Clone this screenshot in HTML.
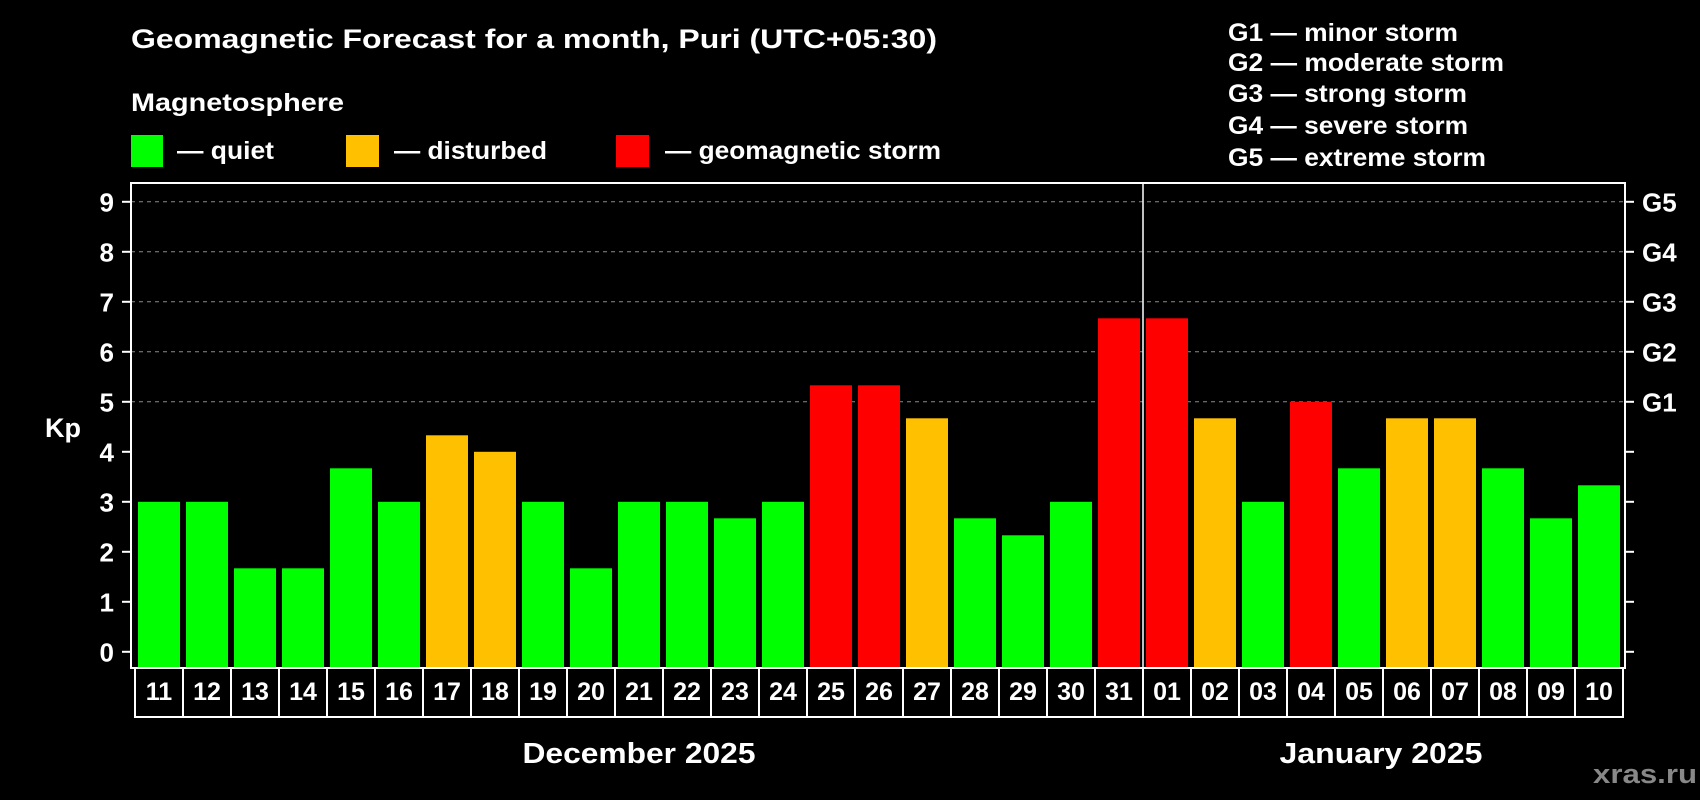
<!DOCTYPE html>
<html><head><meta charset="utf-8"><style>
html,body{margin:0;padding:0;background:#000;}
svg{display:block;font-family:"Liberation Sans",Arial,sans-serif;font-weight:bold;}
</style></head><body>
<svg id="chart" width="1700" height="800" viewBox="0 0 1700 800">
<rect x="0" y="0" width="1700" height="800" fill="#000"/>
<text x="131" y="48" fill="#fff" font-size="27" textLength="806" lengthAdjust="spacingAndGlyphs">Geomagnetic Forecast for a month, Puri (UTC+05:30)</text>
<text x="131" y="111" fill="#fff" font-size="25" textLength="213" lengthAdjust="spacingAndGlyphs">Magnetosphere</text>
<g>
<rect x="131" y="135" width="32" height="32" fill="#00ff00"/>
<text x="177" y="159" fill="#fff" font-size="25" textLength="97" lengthAdjust="spacingAndGlyphs">— quiet</text>
</g>
<g>
<rect x="346" y="135" width="33" height="32" fill="#ffc000"/>
<text x="394" y="159" fill="#fff" font-size="25" textLength="153" lengthAdjust="spacingAndGlyphs">— disturbed</text>
</g>
<g>
<rect x="616" y="135" width="33" height="32" fill="#ff0000"/>
<text x="665" y="159" fill="#fff" font-size="25" textLength="276" lengthAdjust="spacingAndGlyphs">— geomagnetic storm</text>
</g>
<g fill="#fff" font-size="25">
<text x="1228" y="41" textLength="230" lengthAdjust="spacingAndGlyphs">G1 — minor storm</text>
<text x="1228" y="71" textLength="276" lengthAdjust="spacingAndGlyphs">G2 — moderate storm</text>
<text x="1228" y="102" textLength="239" lengthAdjust="spacingAndGlyphs">G3 — strong storm</text>
<text x="1228" y="134" textLength="240" lengthAdjust="spacingAndGlyphs">G4 — severe storm</text>
<text x="1228" y="166" textLength="258" lengthAdjust="spacingAndGlyphs">G5 — extreme storm</text>
</g>
<g id="grid"></g>
<g id="bars"></g>
<g id="axes"></g>
<text x="63" y="437" fill="#fff" font-size="27" text-anchor="middle">Kp</text>
<text x="639" y="763" fill="#fff" font-size="29" text-anchor="middle" textLength="233" lengthAdjust="spacingAndGlyphs">December 2025</text>
<text x="1381" y="763" fill="#fff" font-size="29" text-anchor="middle" textLength="203" lengthAdjust="spacingAndGlyphs">January 2025</text>
<text x="1645" y="783" fill="#888" font-size="27" text-anchor="middle" textLength="104" lengthAdjust="spacingAndGlyphs">xras.ru</text>
</svg>
<script>
const days = ["11","12","13","14","15","16","17","18","19","20","21","22","23","24","25","26","27","28","29","30","31","01","02","03","04","05","06","07","08","09","10"];
const kpValues = [3,3,1.67,1.67,3.67,3,4.33,4,3,1.67,3,3,2.67,3,5.33,5.33,4.67,2.67,2.33,3,6.67,6.67,4.67,3,5,3.67,4.67,4.67,3.67,2.67,3.33];
const yTicks = ["0","1","2","3","4","5","6","7","8","9"];
const gLabels = ["G1","G2","G3","G4","G5"];
const gLevels = [5,6,7,8,9];
const monthSplitIndex = 21;

const NS = "http://www.w3.org/2000/svg";
const frameL = 131, frameR = 1625, frameT = 183, frameB = 668;
const slot0 = 135, slotW = 48, barW = 42;
function yScale(v){ return 651.8 - 50 * v; }
function xScale(i){ return slot0 + slotW * i; }
function colorFor(v){ return v >= 5 ? "#ff0000" : (v >= 4 ? "#ffc000" : "#00ff00"); }
function mk(tag, attrs, parent){
  const el = document.createElementNS(NS, tag);
  for (const k in attrs) el.setAttribute(k, attrs[k]);
  parent.appendChild(el);
  return el;
}
const grid = document.getElementById("grid");
const bars = document.getElementById("bars");
const axes = document.getElementById("axes");

gLevels.forEach((lv, j) => {
  const l = mk("line", {x1: frameL, x2: frameR, y1: yScale(lv), y2: yScale(lv), stroke: "#8a8a8a", "stroke-width": 1, "stroke-dasharray": "4,4"}, grid);
  
  
});

kpValues.forEach((v, i) => {
  const top = yScale(v);
  const r = mk("rect", {x: xScale(i) + 3, y: top, width: barW, height: frameB - top, fill: colorFor(v)}, bars);
  
  
});

const frame = mk("rect", {x: frameL, y: frameT, width: frameR - frameL, height: frameB - frameT, fill: "none", stroke: "#fff", "stroke-width": 2}, axes);



const div = mk("line", {x1: xScale(monthSplitIndex), x2: xScale(monthSplitIndex), y1: frameT, y2: frameB, stroke: "#fff", "stroke-width": 1.5}, axes);



yTicks.forEach((t, k) => {
  const y = yScale(+t);
  const tl = mk("line", {x1: 122, x2: frameL, y1: y, y2: y, stroke: "#fff", "stroke-width": 2}, axes);
  
  
  const tr = mk("line", {x1: frameR, x2: 1634, y1: y, y2: y, stroke: "#fff", "stroke-width": 2}, axes);
  
  
  const tx = mk("text", {x: 114, y: y + 9.5, fill: "#fff", "font-size": 26, "text-anchor": "end"}, axes);
  tx.textContent = t;
  
  
});

gLabels.forEach((g, j) => {
  const tx = mk("text", {x: 1642, y: yScale(gLevels[j]) + 9.5, fill: "#fff", "font-size": 26}, axes);
  tx.textContent = g;
  
  
});

for (let i = 0; i <= days.length; i++) {
  const x = Math.min(xScale(i), frameR - 2);
  const vl = mk("line", {x1: x, x2: x, y1: frameB, y2: 717, stroke: "#fff", "stroke-width": 2}, axes);
  
  
}
const bl = mk("line", {x1: slot0 - 1, x2: frameR - 1, y1: 717, y2: 717, stroke: "#fff", "stroke-width": 2}, axes);



days.forEach((d, i) => {
  const tx = mk("text", {x: xScale(i) + slotW / 2, y: 700, fill: "#fff", "font-size": 25, "text-anchor": "middle"}, axes);
  tx.textContent = d;
  
  
});
</script>
</body></html>
